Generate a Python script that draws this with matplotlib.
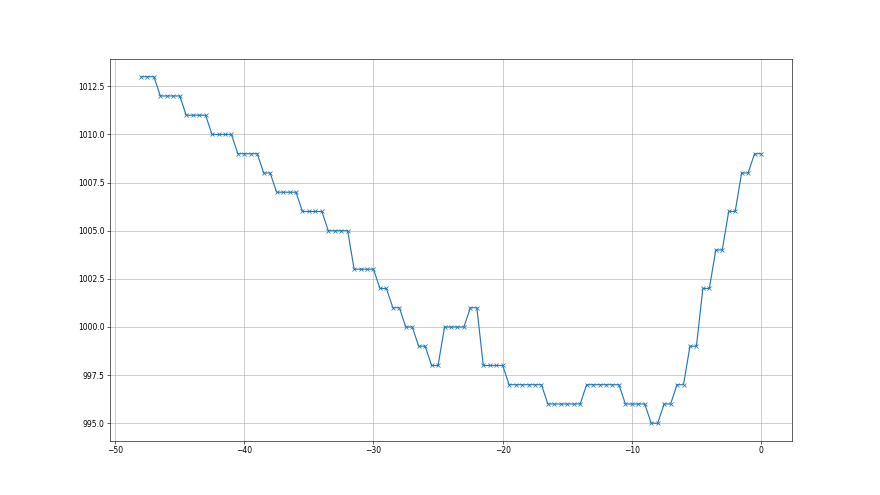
import numpy as np
import matplotlib
matplotlib.use('Agg')
import matplotlib.pyplot as plt

# pressure readings, one every half step from -48 to 0
steps = np.arange(-48, 0.5, 0.5)
levels = [1013, 1012, 1011, 1010, 1009, 1008, 1007, 1006, 1005, 1003,
          1002, 1001, 1000, 999, 998, 1000, 1001, 998, 997, 996,
          997, 996, 995, 996, 997, 999, 1002, 1004, 1006, 1008, 1009]
counts = [3, 4, 4, 4, 4, 2, 4, 4, 4, 4,
          2, 2, 2, 2, 2, 4, 2, 4, 6, 6,
          6, 4, 2, 2, 2, 2, 2, 2, 2, 2, 2]
pressure = np.repeat(levels, counts)

fig, ax = plt.subplots(figsize=(16, 9), dpi=55)
ax.plot(steps, pressure, marker='x', color='#1f77b4')
ax.grid(True)

fig.savefig('out.png', dpi=55)
